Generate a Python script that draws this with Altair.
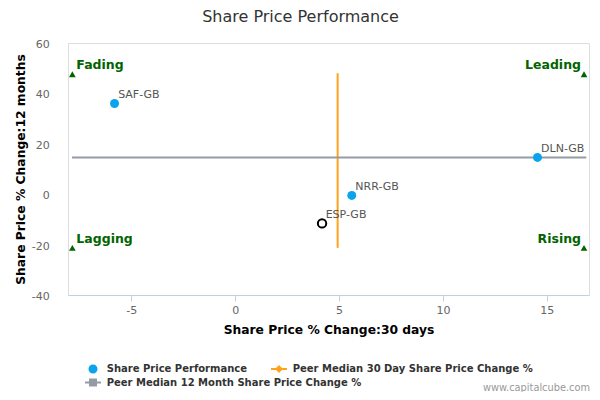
import altair as alt
import pandas as pd

# ---- data ----
companies = ["SAF-GB", "DLN-GB", "NRR-GB", "ESP-GB"]
change_30d = [-5.81, 14.55, 5.61, 4.18]
change_12m = [36.0, 14.6, -0.5, -11.6]
is_subject = [False, False, False, True]

peer_median_30d = 4.93
peer_median_12m = 14.6
line_30d_y = [-21.3, 48.0]      # vertical extent of the 30-day median line
line_12m_x = [-7.86, 16.9]      # horizontal extent of the 12-month median line

quadrant_names = ["Fading", "Leading", "Lagging", "Rising"]
quadrant_x = [-7.84, 16.79, -7.84, 16.79]
quadrant_y = [47.6, 47.6, -21.3, -21.3]
quadrant_side = ["left", "right", "left", "right"]

legend_row1 = ["Share Price Performance", "Peer Median 30 Day Share Price Change %"]
legend_row2 = ["Peer Median 12 Month Share Price Change %"]
legend_colors_row1 = ["#0AA3EE", "#FFA31A"]
legend_colors_row2 = ["#959BA5"]

x_domain = [-8.05, 17.03]
y_domain = [-40, 60]
x_ticks = [-5, 0, 5, 10, 15]
y_ticks = [-40, -20, 0, 20, 40, 60]

credits = ["www.capitalcube.com"]

# ---- styling ----
FONT = "DejaVu Sans"
BLUE, ORANGE = legend_colors_row1
GRAY = legend_colors_row2[0]
GREEN = "#006400"

CIRCLE_PATH = "M-0.9,0A0.9,0.9,0,1,0,0.9,0A0.9,0.9,0,1,0,-0.9,0Z"
DIAMOND_LINE_PATH = "M-1.6,-0.2L1.6,-0.2L1.6,0.2L-1.6,0.2Z M0,-0.8L0.8,0L0,0.8L-0.8,0Z"
SQUARE_LINE_PATH = "M-1.6,-0.2L1.6,-0.2L1.6,0.2L-1.6,0.2Z M-0.8,-0.8L0.8,-0.8L0.8,0.8L-0.8,0.8Z"

xs = alt.Scale(domain=x_domain, nice=False, zero=False)
ys = alt.Scale(domain=y_domain, nice=False, zero=False)

x_axis = alt.Axis(
    values=x_ticks, title="Share Price % Change:30 days", grid=False,
    domainColor="#C0D0E0", tickColor="#C0D0E0", tickSize=6, labelPadding=3,
    labelFont=FONT, labelFontSize=11, labelColor="#666666",
    labelExpr="replace(datum.label, '\u2212', '-')",
    titleFont=FONT, titleFontSize=12.3, titleFontWeight="bold", titleColor="#000000",
    titlePadding=8,
)
y_axis = alt.Axis(
    values=y_ticks, title="Share Price % Change:12 months", grid=False,
    domain=False, ticks=False, tickSize=0, labelPadding=18.7, labelOffset=1.5,
    labelFont=FONT, labelFontSize=11, labelColor="#666666",
    labelExpr="replace(datum.label, '\u2212', '-')",
    titleFont=FONT, titleFontSize=12.3, titleFontWeight="bold", titleColor="#000000",
    titlePadding=4,
)


def X(field):
    return alt.X(field, type="quantitative", scale=xs, axis=x_axis)


def Y(field):
    return alt.Y(field, type="quantitative", scale=ys, axis=y_axis)


companies_df = pd.DataFrame({
    "company": companies, "x": change_30d, "y": change_12m, "subject": is_subject,
})
v_line_df = pd.DataFrame({"x": [peer_median_30d], "y": [line_30d_y[0]], "y2": [line_30d_y[1]]})
h_line_df = pd.DataFrame({"x": [line_12m_x[0]], "x2": [line_12m_x[1]], "y": [peer_median_12m]})
quad_df = pd.DataFrame({"label": quadrant_names, "x": quadrant_x, "y": quadrant_y, "side": quadrant_side})
legend1_df = pd.DataFrame({"series": legend_row1})
legend2_df = pd.DataFrame({"series2": legend_row2})
credits_df = pd.DataFrame({"text": credits})

v_line = alt.Chart(v_line_df).mark_rule(color=ORANGE, strokeWidth=2).encode(
    x=X("x"), y=Y("y"), y2="y2"
)
h_line = alt.Chart(h_line_df).mark_rule(color=GRAY, strokeWidth=2).encode(
    x=X("x"), x2="x2", y=Y("y")
)

peers = alt.Chart(companies_df).transform_filter("!datum.subject").mark_circle(
    size=80, color=BLUE, opacity=1
).encode(x=X("x"), y=Y("y"))

subject = alt.Chart(companies_df).transform_filter("datum.subject").mark_point(
    shape="circle", filled=False, stroke="#000000", strokeWidth=2, size=70, opacity=1
).encode(x=X("x"), y=Y("y"))

labels = alt.Chart(companies_df).mark_text(
    align="left", baseline="middle", dx=3.6, dy=-8.5, font=FONT, fontSize=11, color="#555555"
).encode(x=X("x"), y=Y("y"), text="company:N")

triangles = alt.Chart(quad_df).mark_point(
    shape="triangle-up", filled=True, color=GREEN, size=45, opacity=1
).encode(x=X("x"), y=Y("y"))

quad_left = alt.Chart(quad_df).transform_filter("datum.side == 'left'").mark_text(
    align="left", baseline="middle", dx=4, dy=-9, font=FONT, fontSize=12.5,
    fontWeight="bold", color=GREEN
).encode(x=X("x"), y=Y("y"), text="label:N")

quad_right = alt.Chart(quad_df).transform_filter("datum.side == 'right'").mark_text(
    align="right", baseline="middle", dx=-3, dy=-9, font=FONT, fontSize=12.5,
    fontWeight="bold", color=GREEN
).encode(x=X("x"), y=Y("y"), text="label:N")

legend_common = dict(
    orient="none", legendX=20, direction="horizontal", title=None,
    symbolSize=100, symbolStrokeWidth=0, symbolOpacity=1,
    labelFont=FONT, labelFontSize=10, labelFontWeight="bold", labelColor="#333333",
    labelOffset=8.7, columnPadding=23, padding=0, labelLimit=400,
)
legend1 = alt.Legend(legendY=321, **legend_common)
legend_layer1 = alt.Chart(legend1_df).mark_point(filled=True, opacity=0).encode(
    color=alt.Color("series:N", scale=alt.Scale(domain=legend_row1, range=legend_colors_row1),
                    legend=legend1),
    shape=alt.Shape("series:N",
                    scale=alt.Scale(domain=legend_row1, range=[CIRCLE_PATH, DIAMOND_LINE_PATH]),
                    legend=legend1),
)
legend_layer2 = alt.Chart(legend2_df).mark_point(filled=True, opacity=0).encode(
    fill=alt.Fill("series2:N", scale=alt.Scale(domain=legend_row2, range=legend_colors_row2),
                  legend=alt.Legend(legendY=334.5, symbolType=SQUARE_LINE_PATH, **legend_common)),
)

credit_text = alt.Chart(credits_df).mark_text(
    align="right", baseline="middle", font=FONT, fontSize=9.8, color="#999999"
).encode(x=alt.value(522), y=alt.value(345), text="text:N")

chart = alt.layer(
    v_line, h_line, peers, subject, labels, triangles, quad_left, quad_right,
    legend_layer1, legend_layer2, credit_text,
).properties(
    width=521, height=252,
    autosize=alt.AutoSizeParams(type="none"),
    padding={"left": 60, "top": 35, "right": 3, "bottom": 97},
    title=alt.Title(
        "Share Price Performance", font=FONT, fontSize=16, fontWeight="normal",
        color="#333333", anchor="middle", dx=-28, offset=14,
    ),
).configure_view(stroke=None).configure(background="white")

chart.save("out.html", embed_options={"renderer": "svg", "actions": False})
